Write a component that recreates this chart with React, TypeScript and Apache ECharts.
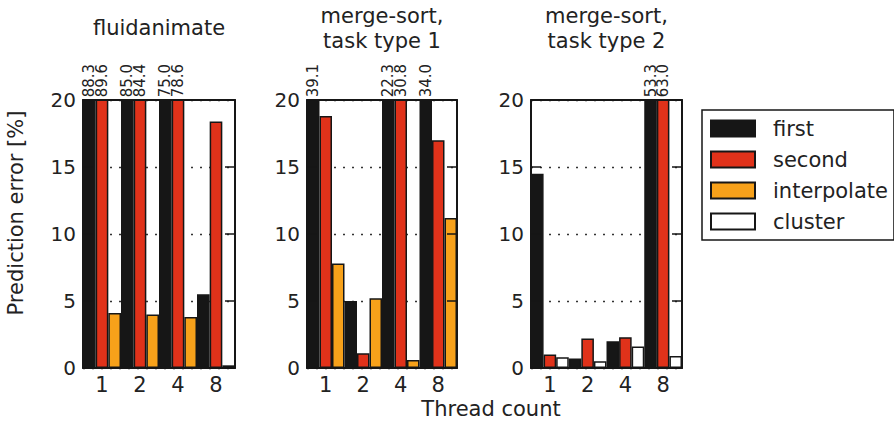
import React, { useEffect, useRef } from "react";
import * as echarts from "echarts";

const threads = ["1", "2", "4", "8"];
const panelTitles = ["fluidanimate", "merge-sort,\ntask type 1", "merge-sort,\ntask type 2"];
const seriesNames = ["first", "second", "interpolate", "cluster"];

const fluidFirst = [88.3, 85.0, 75.0, 5.5];
const fluidSecond = [89.6, 84.4, 78.6, 18.4];
const fluidInterp = [4.1, 4.0, 3.8, null];
const fluidCluster = [null, null, null, 0.2];

const ms1First = [39.1, 5.0, 22.3, 34.0];
const ms1Second = [18.8, 1.1, 30.8, 17.0];
const ms1Interp = [7.8, 5.2, 0.6, 11.2];
const ms1Cluster = [null, null, null, null];

const ms2First = [14.5, 0.7, 2.0, 53.3];
const ms2Second = [1.0, 2.2, 2.3, 63.0];
const ms2Interp = [null, null, null, null];
const ms2Cluster = [0.8, 0.5, 1.6, 0.9];

const yTicks = { min: 0, max: 20, interval: 5 };

const FONT = "DejaVu Sans";
const INK = "#161616";
const colors = ["#161616", "#e0321a", "#f7a11a", "#ffffff"];

const panels = [
  [fluidFirst, fluidSecond, fluidInterp, fluidCluster],
  [ms1First, ms1Second, ms1Interp, ms1Cluster],
  [ms2First, ms2Second, ms2Interp, ms2Cluster],
];

const gridBoxes = [
  { left: 83, top: 100, width: 152, height: 268 },
  { left: 307, top: 100, width: 150, height: 268 },
  { left: 531, top: 100, width: 151, height: 268 },
];

export default function App() {
  const ref = useRef<HTMLDivElement>(null);
  useEffect(() => {
    if (!ref.current) return;
    const chart = echarts.init(ref.current, null, { renderer: "svg" });

    const xAxis: any[] = [];
    const yAxis: any[] = [];
    const series: any[] = [];
    const graphic: any[] = [];

    gridBoxes.forEach((g, i) => {
      xAxis.push({
        type: "category",
        gridIndex: i,
        data: threads,
        position: "bottom",
        z: 5,
        axisLine: { show: true, onZero: false, lineStyle: { color: INK, width: 2 } },
        axisTick: { show: false },
        axisLabel: { fontSize: 21, lineHeight: 20, color: "#222", fontFamily: FONT, margin: 7 },
        splitLine: { show: false },
      });
      xAxis.push({
        type: "category",
        gridIndex: i,
        data: threads,
        position: "top",
        z: 5,
        axisLine: { show: true, onZero: false, lineStyle: { color: INK, width: 2 } },
        axisTick: { show: false },
        axisLabel: { show: false },
        splitLine: { show: false },
      });
      yAxis.push({
        type: "value",
        gridIndex: i,
        ...yTicks,
        position: "left",
        z: 5,
        axisLine: { show: true, onZero: false, lineStyle: { color: INK, width: 2 } },
        axisTick: { show: true, inside: true, length: 10, lineStyle: { color: INK, width: 1.5 } },
        axisLabel: { fontSize: 20, color: "#222", fontFamily: FONT, margin: 7 },
        splitLine: { show: false },
      });
      yAxis.push({
        type: "value",
        gridIndex: i,
        ...yTicks,
        position: "right",
        z: 5,
        axisLine: { show: true, onZero: false, lineStyle: { color: INK, width: 2 } },
        axisTick: { show: true, inside: true, length: 10, lineStyle: { color: INK, width: 1.5 } },
        axisLabel: { show: false },
        splitLine: { show: false },
      });
      yAxis.push({
        type: "value",
        gridIndex: i,
        ...yTicks,
        position: "left",
        z: 0,
        axisLine: { show: false },
        axisTick: { show: false },
        axisLabel: { show: false },
        splitLine: { show: true, lineStyle: { color: "#333", width: 1.3, type: [2, 7] } },
      });

      const data = panels[i];
      seriesNames.forEach((name, k) => {
        const s: any = {
          name,
          type: "bar",
          xAxisIndex: 2 * i,
          yAxisIndex: 3 * i,
          data: data[k].map((v) => (v === null ? "-" : v)),
          barGap: "0%",
          barCategoryGap: "0%",
          clip: true,
          itemStyle: { color: colors[k], borderColor: INK, borderWidth: 1.5 },
        };
        if (k >= 2) s.stack = "third" + i;
        if (k < 2) {
          s.label = {
            show: true,
            position: "top",
            rotate: 90,
            align: "left",
            verticalAlign: "middle",
            distance: 2,
            fontSize: 15,
            fontFamily: FONT,
            color: "#222",
            formatter: (p: any) => (p.value > 20 ? Number(p.value).toFixed(1) : ""),
          };
        }
        series.push(s);
      });

      graphic.push({
        type: "text",
        x: g.left + g.width / 2,
        y: 28,
        style: {
          text: panelTitles[i],
          fontSize: 21,
          lineHeight: 25,
          fontFamily: FONT,
          fill: "#222",
          align: "center",
          verticalAlign: "middle",
        },
      });
    });

    graphic.push({
      type: "text",
      x: 491,
      y: 409,
      style: {
        text: "Thread count",
        fontSize: 21,
        lineHeight: 20,
        fontFamily: FONT,
        fill: "#222",
        align: "center",
        verticalAlign: "middle",
      },
    });
    graphic.push({
      type: "text",
      x: 16,
      y: 213,
      rotation: Math.PI / 2,
      style: {
        text: "Prediction error [%]",
        fontSize: 21,
        fontFamily: FONT,
        fill: "#222",
        align: "center",
        verticalAlign: "middle",
      },
    });

    chart.setOption({
      animation: false,
      backgroundColor: "#ffffff",
      grid: gridBoxes.map((g) => ({ ...g, containLabel: false })),
      xAxis,
      yAxis,
      series,
      legend: {
        data: seriesNames,
        orient: "vertical",
        left: 702,
        top: 110,
        itemWidth: 44,
        itemHeight: 16,
        itemGap: 10,
        icon: "rect",
        padding: [8, 6, 8, 8],
        borderColor: INK,
        borderWidth: 1.5,
        borderRadius: 0,
        textStyle: { fontSize: 21, fontFamily: FONT, color: "#222", padding: [0, 0, 0, 13] },
      },
      graphic,
    });

    return () => chart.dispose();
  }, []);

  return (
    <div
      ref={ref}
      style={{ position: "fixed", left: 0, top: 0, width: 894, height: 421 }}
    />
  );
}
